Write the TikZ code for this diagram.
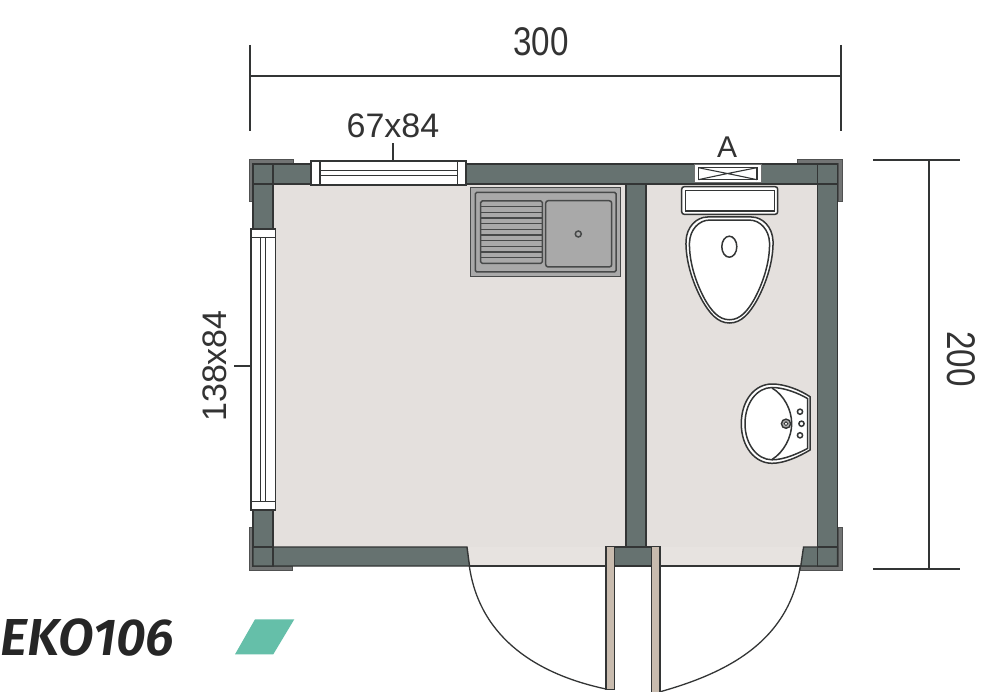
\documentclass[tikz,border=0pt]{standalone}
\usepackage{fontspec}
\setmainfont{Liberation Sans}
\newfontfamily\ekofont{Fira Sans SemiBold Italic}
\definecolor{wallc}{HTML}{667270}
\definecolor{edgec}{HTML}{333535}
\definecolor{lc}{HTML}{727474}
\definecolor{floorc}{HTML}{E4E0DD}
\definecolor{doorfloor}{HTML}{E7E3E0}
\definecolor{leafc}{HTML}{C8BBAE}
\definecolor{steelc}{HTML}{A9A9A9}
\definecolor{tealc}{HTML}{65BFA9}
\definecolor{txtc}{HTML}{333333}
\tikzset{
  wall/.style={fill=wallc,draw=edgec,line width=1.4pt},
  cornerl/.style={fill=lc,draw=lc!70!black,line width=1pt},
  glass/.style={fill=white,draw=edgec,line width=1.5pt},
  dim/.style={draw=edgec,line width=1.3pt},
  fixture/.style={fill=white,draw=edgec,line width=1.5pt},
  steel/.style={fill=steelc,draw=edgec!90,line width=1.5pt},
  leaf/.style={fill=leafc,draw=edgec,line width=1.4pt},
  lbl/.style={text=txtc,inner sep=0pt,font=\fontsize{34}{34}\selectfont}
}
\newcommand{\toiletshape}{(0,-52) -- (22,-52) .. controls (33,-52) and (43,-42) .. (43.5,-28) .. controls (44,-10) and (38,12) .. (27,32) .. controls (20,44) and (12,54) .. (0,54) .. controls (-12,54) and (-20,44) .. (-27,32) .. controls (-38,12) and (-44,-10) .. (-43.5,-28) .. controls (-43,-42) and (-33,-52) .. (-22,-52) -- cycle}
\begin{document}
\begin{tikzpicture}[x=1pt,y=-1pt]
\useasboundingbox (0,0) rectangle (1000,692);
\fill[white] (0,0) rectangle (1000,692);
% floor
\fill[floorc] (273,184) rectangle (818,547);
\fill[doorfloor] (468,547) rectangle (802,566);
% corner L plates
\path[cornerl] (249,159.5) -- (293,159.5) -- (293,164) -- (253,164) -- (253,201.5) -- (249,201.5) -- cycle;
\path[cornerl] (842,159.5) -- (797.5,159.5) -- (797.5,164) -- (838,164) -- (838,201.5) -- (842,201.5) -- cycle;
\path[cornerl] (249,527) -- (249,570.5) -- (292,570.5) -- (292,566) -- (253,566) -- (253,527) -- cycle;
\path[cornerl] (842,527) -- (842,570.5) -- (800,570.5) -- (800,566) -- (838,566) -- (838,527) -- cycle;
% walls
\path[wall] (253,164) rectangle (837.5,184);
\path[wall] (253,164) rectangle (273,229);
\path[wall] (253,510) rectangle (273,566);
\path[wall] (817.5,164) rectangle (837.5,566);
\path[wall] (626,184) rectangle (646,547);
\path[wall] (253,547) -- (467,547) -- (469.5,566) -- (253,566) -- cycle;
\path[wall] (803.5,547) -- (837.5,547) -- (837.5,566) -- (800.8,566) -- cycle;
\path[wall] (614.5,547) rectangle (651.5,566);
\draw[edgec,line width=1.4pt] (253,184) -- (273,184) (273,164) -- (273,184);
\draw[edgec,line width=1.4pt] (817.5,164) -- (817.5,184) -- (837.5,184);
\draw[edgec,line width=1.4pt] (253,547) -- (273,547) -- (273,566);
\draw[edgec,line width=1.4pt] (817.5,566) -- (817.5,547) -- (837.5,547);
\draw[edgec,line width=1.4pt] (469.5,566) -- (606,566) (660,566) -- (800.8,566);
% top window
\path[glass] (311,161) rectangle (466,185);
\draw[edgec,line width=1.5pt] (320,161) -- (320,185) (457.5,161) -- (457.5,185) (320,170.7) -- (457.5,170.7) (320,175.7) -- (457.5,175.7);
\coordinate (winT) at (393,161);
\coordinate (winTend) at (393,143);
\draw[dim] (winT) -- (winTend);
% left window
\path[glass] (251,229) rectangle (275.5,510);
\draw[edgec,line width=1.5pt] (251,237.5) -- (275.5,237.5) (251,501.5) -- (275.5,501.5) (260.7,237.5) -- (260.7,501.5) (265.7,237.5) -- (265.7,501.5);
\coordinate (winL) at (251,366);
\coordinate (winLend) at (234,366);
\draw[dim] (winL) -- (winLend);
% vent A
\path[fill=white,draw=edgec!70,line width=.7pt] (694,164) rectangle (761,182.7);
\path[fill=white,draw=edgec,line width=1.5pt] (698.3,167.7) rectangle (757,179.7);
\draw[edgec,line width=1.1pt] (698.3,167.7) .. controls (720,172) and (735,175) .. (757,179.7) (698.3,179.7) .. controls (720,175) and (735,172) .. (757,167.7);
% kitchen sink
\path[steel] (470.7,187.7) rectangle (620.7,276.7);
\path[steel,rounded corners=1.5pt] (475.3,192.3) rectangle (616,272);
\path[steel,rounded corners=1.5pt] (480.7,201) rectangle (542.3,263.3);
\foreach \k in {1,...,10}{\draw[edgec!90,line width=1.4pt] (480.7,201+\k*5.67) -- (542.3,201+\k*5.67);}
\path[steel,rounded corners=2.5pt] (545.7,200.7) rectangle (611.7,267);
\path[steel] (578.3,234) circle[radius=3];
% cistern
\path[fixture,rounded corners=2.5pt] (681.7,186.7) rectangle (777.7,214.3);
\path[fixture] (685.7,190.3) rectangle (774.3,211);
% toilet
\begin{scope}[shift={(729.5,269)}]
\path[fixture] \toiletshape;
\begin{scope}[xscale=.92,yscale=.94]
\path[fixture] \toiletshape;
\end{scope}
\end{scope}
\path[fixture] (729.3,246.7) ellipse[x radius=7.5,y radius=10.5];
% wash basin
\path[fixture] (741.3,423.7) .. controls (741.3,400) and (755,384) .. (772,384) .. controls (785,384) and (800,390) .. (810,396.7) -- (810,450) .. controls (800,456) and (785,463.3) .. (772,463.3) .. controls (755,463.3) and (741.3,447) .. (741.3,423.7) -- cycle;
\path[fixture] (745,423.7) .. controls (745,403) and (757,387.5) .. (772,387.5) .. controls (784,387.5) and (798,393) .. (807.5,398.5) -- (807.5,448.5) .. controls (798,453.5) and (784,459.8) .. (772,459.8) .. controls (757,459.8) and (745,444) .. (745,423.7) -- cycle;
\draw[edgec,line width=1.5pt] (772,388) .. controls (784,395) and (791.7,410) .. (791.7,423.7) .. controls (791.7,437) and (784,452) .. (772,459.5);
\path[fill=steelc,draw=edgec,line width=1.4pt] (786,423.7) circle[radius=4.6];
\path[fill=white,draw=edgec,line width=.8pt] (786,423.7) circle[radius=1.9];
\foreach \px/\py in {800/411.7,801.5/423.7,800/435.3}{\path[fixture] (\px,\py) circle[radius=2.6];}
% door leaves
\path[leaf] (606,546.7) rectangle (614.7,689.3);
\path[leaf] (651.3,546.7) rectangle (660,695);
\coordinate (hingeL) at (469.3,566);
\coordinate (leafL) at (606,689);
\coordinate (hingeR) at (800.3,566);
\coordinate (leafR) at (661,691.5);
\draw[edgec,line width=1.3pt] (hingeL) .. controls (480,640) and (540,675) .. (leafL);
\draw[edgec,line width=1.3pt] (hingeR) .. controls (789,640) and (730,672) .. (leafR);
% dimensions
\coordinate (dTa) at (250,45);
\coordinate (dTb) at (250,131);
\coordinate (dTc) at (841,45);
\coordinate (dTd) at (841,131);
\coordinate (dTl) at (250,76);
\coordinate (dTr) at (841,76);
\draw[dim] (dTa) -- (dTb) (dTc) -- (dTd) (dTl) -- (dTr);
\coordinate (dRa) at (873,160);
\coordinate (dRb) at (960,160);
\coordinate (dRc) at (873,569);
\coordinate (dRd) at (960,569);
\coordinate (dRt) at (929,160);
\coordinate (dRu) at (929,569);
\draw[dim] (dRa) -- (dRb) (dRc) -- (dRd) (dRt) -- (dRu);
% labels
\node[lbl,font=\fontsize{40}{40}\selectfont,xscale=.83] (t300) at (541,41.5) {300};
\node[lbl,font=\fontsize{40}{40}\selectfont,rotate=-90,xscale=.83] (t200) at (961,359) {200};
\node[lbl] (t67) at (393,126) {67x84};
\node[lbl,rotate=90] (t138) at (215,366) {138x84};
\node[lbl,font=\fontsize{30}{30}\selectfont] (tA) at (727,147.5) {A};
\node[inner sep=0pt,anchor=base west,text=black!85,font=\ekofont\fontsize{52}{52}\selectfont] (teko) at (0,655) {EKO106};
\path[fill=tealc] (235,654.3) -- (273.3,654.3) -- (294.3,619.3) -- (255,619.3) -- cycle;
\end{tikzpicture}
\end{document}
